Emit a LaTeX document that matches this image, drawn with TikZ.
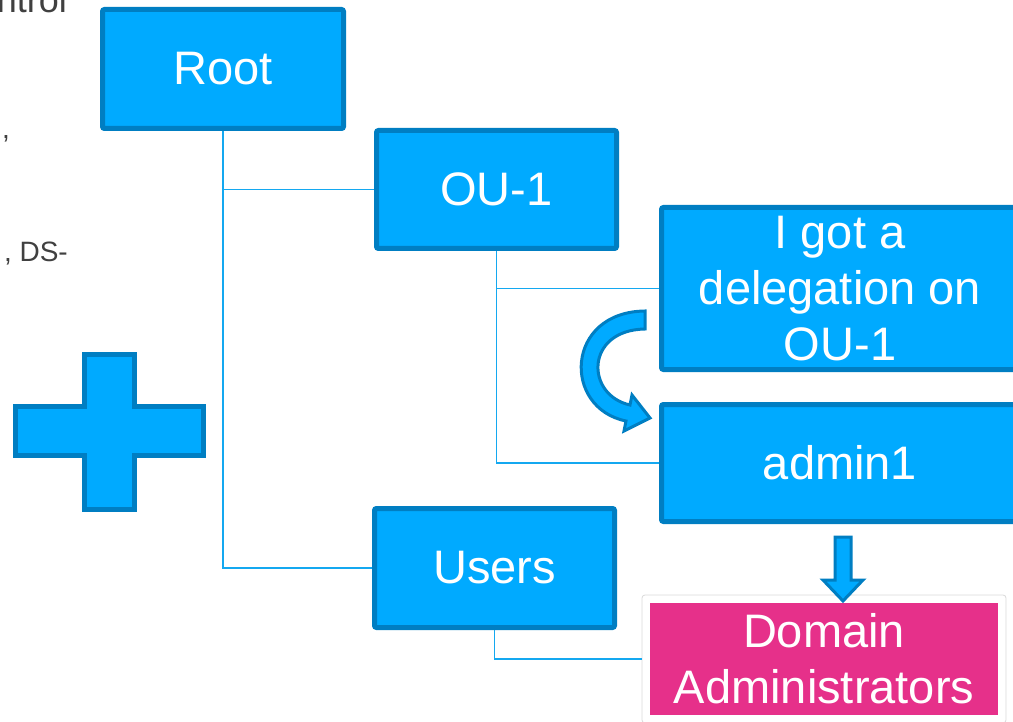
\documentclass[tikz,border=0pt]{standalone}
\usepackage{fontspec}
\setmainfont{Liberation Sans}
\definecolor{boxfill}{RGB}{0,170,255}
\definecolor{boxline}{RGB}{0,126,194}
\definecolor{linkblue}{RGB}{20,168,240}
\definecolor{pinkfill}{RGB}{230,48,138}
\definecolor{slidetext}{RGB}{64,64,64}

\begin{document}
\begin{tikzpicture}[x=1pt, y=-1pt,
	ou/.style={draw=boxline, fill=boxfill, line width=5pt, rounded corners=2pt, text=white, align=center, inner sep=0pt, font=\fontsize{47}{56}\selectfont},
	link/.style={draw=linkblue, line width=1.6pt},
	blockarrow/.style={draw=boxline, fill=boxfill, line width=3pt, line join=miter},
	slide/.style={text=slidetext, inner sep=0pt}]
	\useasboundingbox (0,0) rectangle (1013,722);

	% Left-over slide text
	\node (t1) [slide, anchor=base east, font=\fontsize{36}{40}\selectfont] at (67,13) {ntrol};
	\node (t2) [slide, anchor=base west, font=\fontsize{28}{32}\selectfont] at (2,139) {,};
	\node (t3) [slide, anchor=base east, font=\fontsize{28}{32}\selectfont] at (68,262) {, DS-};

	% Plus sign
	\draw[blockarrow, line width=5pt] (84.5,354.5) -- (134.5,354.5) -- (134.5,406.5) -- (203.5,406.5) -- (203.5,455.5) -- (134.5,455.5) -- (134.5,509.5) -- (84.5,509.5) -- (84.5,455.5) -- (15.5,455.5) -- (15.5,406.5) -- (84.5,406.5) -- cycle;

	% Tree nodes
	\node (root) [ou, minimum width=241pt, minimum height=119pt] at (223,69) {Root};
	\node (ou1) [ou, minimum width=240pt, minimum height=118pt] at (496.5,189.5) {OU-1};
	\node (deleg) [ou, minimum width=357pt, minimum height=162pt] at (840,288.5) {I got a\\delegation on\\OU-1};
	\node (admin) [ou, minimum width=357pt, minimum height=117pt] at (840,463) {admin1};
	\node (users) [ou, minimum width=240pt, minimum height=119pt] at (494.5,568) {Users};
	\node (dom) [fill=pinkfill, draw=white, line width=8pt, text=white, align=center, inner sep=0pt, minimum width=356pt, minimum height=120pt, font=\fontsize{47}{56}\selectfont] at (824,659) {Domain\\Administrators};
	\draw[black!15, line width=0.8pt, rounded corners=3pt] (dom.north west) rectangle (dom.south east);

	% Tree links
	\draw[link] (root.south) |- (users.west);
	\draw[link] (root.south |- ou1.west) -- (ou1.west);
	\draw[link] (ou1.south) |- (admin.west);
	\draw[link] (ou1.south |- deleg.west) -- (deleg.west);
	\draw[link] (users.south) |- (dom.west);

	% Curved arrow from the delegation to admin1
	\draw[blockarrow] (645,311) .. controls (565,312) and (562,408) .. (626,421) -- (624,431) -- (650,418) -- (632,395) -- (630,405) .. controls (585,395) and (585,330) .. (645,329) -- cycle;

	% Arrow from admin1 down to Domain Administrators
	\draw[blockarrow] (835,537) -- (851,537) -- (851,580) -- (863,580) -- (843,601) -- (823,580) -- (835,580) -- cycle;
\end{tikzpicture}
\end{document}
